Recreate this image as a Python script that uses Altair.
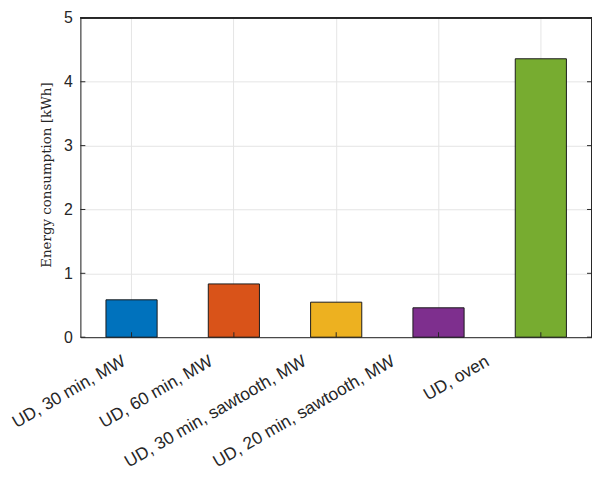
import altair as alt
import pandas as pd

categories = ["UD, 30 min, MW", "UD, 60 min, MW", "UD, 30 min, sawtooth, MW",
              "UD, 20 min, sawtooth, MW", "UD, oven"]
values = [0.585, 0.834, 0.548, 0.46, 4.36]
colors = ["#0072BD", "#D95319", "#EDB120", "#7E2F8E", "#77AC30"]
y_ticks = [0, 1, 2, 3, 4, 5]
label_shift = [-12, -27, -36, -50, -58]

df = pd.DataFrame({"cat": categories, "val": values, "col": colors})
ticks_df = pd.DataFrame({"t": y_ticks})

W, H = 516, 322

xscale = alt.Scale(domain=categories, paddingInner=0.5, paddingOuter=0.25)
yscale = alt.Scale(domain=[0, 5], nice=False)

label_offset = {
    "condition": [
        {"test": "datum.value === '%s'" % c, "value": s}
        for c, s in zip(categories[:-1], label_shift[:-1])
    ],
    "value": label_shift[-1],
}

bars = alt.Chart(df).mark_bar(stroke="#1a1a1a", strokeWidth=1).encode(
    x=alt.X("cat:N", scale=xscale, sort=categories,
            axis=alt.Axis(title=None, labelAngle=330, labelAlign="right",
                          labelBaseline="top", labelFontSize=17.5,
                          labelFont="Liberation Sans", labelColor="#262626",
                          labelPadding=15, labelOffset=label_offset, tickSize=0,
                          domainColor="#262626",
                          grid=True, gridColor="#e5e5e5", bandPosition=0.5,
                          labelLimit=400)),
    y=alt.Y("val:Q", scale=yscale,
            axis=alt.Axis(title="Energy consumption [kWh]", titleFont="DejaVu Serif",
                          titleFontWeight="normal", titleFontSize=13.5,
                          titleColor="#262626", titleX=-34, titleY=158,
                          titleAngle=270, titleAlign="center", titleBaseline="middle",
                          format="d",
                          values=y_ticks, labelFontSize=16, labelFont="Liberation Sans",
                          labelColor="#262626", labelPadding=8, tickSize=0,
                          domainColor="#262626", gridColor="#e5e5e5")),
    color=alt.Color("col:N", scale=None),
)

xt = alt.Chart(df).mark_rule(color="#262626", strokeWidth=1).encode(
    x=alt.X("cat:N", scale=xscale, sort=categories),
    y=alt.value(H - 5), y2=alt.value(H),
)

yt = alt.Chart(ticks_df).mark_rule(color="#262626", strokeWidth=1).encode(
    y=alt.Y("t:Q", scale=yscale), x=alt.value(0), x2=alt.value(5),
)
yt_r = alt.Chart(ticks_df).mark_rule(color="#262626", strokeWidth=1).encode(
    y=alt.Y("t:Q", scale=yscale), x=alt.value(W - 5), x2=alt.value(W),
)
top_line = alt.Chart(ticks_df).mark_rule(color="#262626", strokeWidth=1).encode(
    x=alt.value(0), x2=alt.value(W), y=alt.value(0),
)
right_line = alt.Chart(ticks_df).mark_rule(color="#262626", strokeWidth=1).encode(
    x=alt.value(W), y=alt.value(0), y2=alt.value(H),
)

chart = alt.layer(bars, xt, yt, yt_r, top_line, right_line).properties(
    width=W, height=H,
    autosize=alt.AutoSizeParams(type="none"),
    padding={"left": 73, "top": 8, "right": 0, "bottom": 136},
).configure_view(stroke=None).configure(background="white")

chart.save("out.html", embed_options={"renderer": "svg", "actions": False})
